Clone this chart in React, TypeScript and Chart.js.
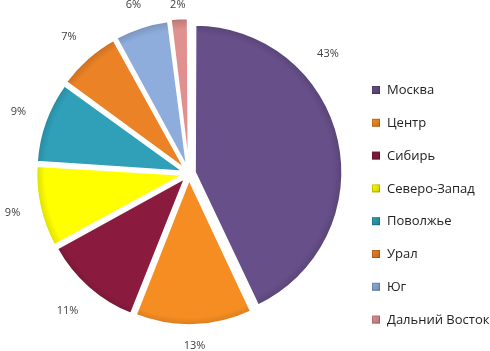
import React, { useEffect, useRef } from 'react';
import { Chart, registerables } from 'chart.js';

Chart.register(...registerables);

const categories = ['Москва', 'Центр', 'Сибирь', 'Северо-Запад', 'Поволжье', 'Урал', 'Юг', 'Дальний Восток'];
const shares = [43, 13, 11, 9, 9, 7, 6, 2];
const colors = ['#67508A', '#F58D22', '#8A1B3F', '#FFFF00', '#2FA0B8', '#EC8226', '#8EADDD', '#E0908F'];

const FONT = '"Open Sans", sans-serif';
const PIE_RADIUS = 144;

function shade(hex: string, f: number) {
  const n = parseInt(hex.slice(1), 16);
  const r = Math.round(((n >> 16) & 255) * f);
  const g = Math.round(((n >> 8) & 255) * f);
  const b = Math.round((n & 255) * f);
  return `rgb(${r},${g},${b})`;
}

const sliceLabels = {
  id: 'sliceLabels',
  afterDatasetsDraw(chart: any) {
    const { ctx, chartArea, height } = chart;
    const meta = chart.getDatasetMeta(0);
    const values = chart.data.datasets[0].data as number[];
    const total = values.reduce((a, b) => a + b, 0);
    ctx.save();
    ctx.font = `11px ${FONT}`;
    ctx.fillStyle = '#404040';
    ctx.textAlign = 'center';
    ctx.textBaseline = 'middle';
    const th = 12;
    meta.data.forEach((arc: any, i: number) => {
      const { x, y, startAngle, endAngle, outerRadius } = arc.getProps(['x', 'y', 'startAngle', 'endAngle', 'outerRadius'], true);
      const shift = (arc.options.offset || 0) / 4;
      const mid = (startAngle + endAngle) / 2;
      const cx = x + Math.cos(mid) * shift;
      const cy = y + Math.sin(mid) * shift;
      const text = Math.round((values[i] / total) * 100) + '%';
      const tw = ctx.measureText(text).width;
      const maxX = chartArea.right - 1;
      let a = mid;
      let px = 0, py = 0;
      for (let k = 0; k < 2000; k++) {
        const ext = Math.abs(Math.cos(a)) * tw / 2 + Math.abs(Math.sin(a)) * th / 2;
        const d = outerRadius + 22 + ext;
        px = cx + Math.cos(a) * d;
        py = cy + Math.sin(a) * d;
        if (px + tw / 2 <= maxX || a <= -Math.PI / 2) break;
        a -= 0.003;
      }
      py = Math.min(Math.max(py, 5), height - 5);
      px = Math.max(px, tw / 2);
      ctx.fillText(text, px, py);
    });
    ctx.restore();
  },
};

const sideLegend = {
  id: 'sideLegend',
  afterDraw(chart: any) {
    const { ctx } = chart;
    const labels = chart.data.labels as string[];
    ctx.save();
    ctx.font = `13px ${FONT}`;
    ctx.textAlign = 'left';
    ctx.textBaseline = 'middle';
    labels.forEach((lab, i) => {
      const yy = 90 + i * 32.8;
      const g = ctx.createLinearGradient(372, yy - 4, 380, yy + 4);
      g.addColorStop(0, colors[i]);
      g.addColorStop(1, shade(colors[i], 0.8));
      ctx.fillStyle = g;
      ctx.fillRect(372, yy - 4, 8, 8);
      ctx.strokeStyle = 'rgba(0,0,0,0.2)';
      ctx.lineWidth = 1;
      ctx.strokeRect(372.5, yy - 3.5, 7, 7);
      ctx.fillStyle = '#222222';
      ctx.fillText(lab, 387, yy + 0.5);
    });
    ctx.restore();
  },
};

function sliceFill(c: any) {
  const base = colors[c.dataIndex % colors.length];
  const chart = c.chart;
  const area = chart.chartArea;
  if (!area) return base;
  const x = (area.left + area.right) / 2;
  const y = (area.top + area.bottom) / 2;
  const r1 = PIE_RADIUS + 7;
  const g = chart.ctx.createRadialGradient(x, y, 0, x, y, r1);
  g.addColorStop(0, base);
  g.addColorStop((PIE_RADIUS - 6) / r1, base);
  g.addColorStop((PIE_RADIUS + 2) / r1, shade(base, 0.88));
  g.addColorStop(1, shade(base, 0.72));
  return g;
}

export default function App() {
  const ref = useRef<HTMLCanvasElement | null>(null);
  useEffect(() => {
    if (!ref.current) return;
    const chart = new Chart(ref.current, {
      type: 'pie',
      data: {
        labels: categories,
        datasets: [
          {
            data: shares,
            backgroundColor: sliceFill,
            borderColor: '#ffffff',
            borderWidth: 2,
            offset: 24,
            radius: PIE_RADIUS,
          } as any,
        ],
      },
      options: {
        animation: false,
        responsive: false,
        layout: { padding: { left: 38, top: 22.5, right: 150, bottom: 26.5 } },
        plugins: { legend: { display: false }, tooltip: { enabled: false } },
      } as any,
      plugins: [sliceLabels, sideLegend],
    });
    return () => chart.destroy();
  }, []);
  return (
    <div style={{ position: 'fixed', left: 0, top: 0, width: 490, height: 351, background: '#fff' }}>
      <canvas ref={ref} width={490} height={351} />
    </div>
  );
}
